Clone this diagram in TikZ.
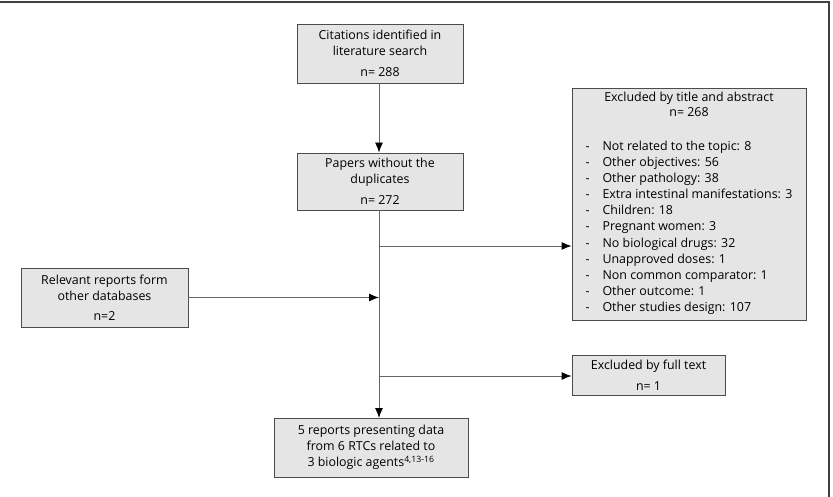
\documentclass[tikz,border=0pt]{standalone}
\usepackage{fontspec}
\setmainfont{Open Sans}
\usetikzlibrary{arrows.meta,positioning}

\begin{document}
\begin{tikzpicture}[
        x=1pt, y=-1pt,
        every node/.style={align=center, font=\fontsize{12.4}{16}\selectfont},
        line/.style={line width=0.9pt, draw=black!60},
        box/.style={draw=black!70, line width=0.9pt, fill=gray!20, inner sep=2pt},
        link/.style={line, -{Latex[length=10pt,width=8pt,black]}}
    ]
    \useasboundingbox (0,0) rectangle (833,497);

    % frame
    \draw[line width=1.8pt, draw=black!75] (0,2) -- (829,2) -- (829,497);

    % Nodes
    \node[box, minimum width=166pt, minimum height=59pt] (cite) at (380,53.5)
        {Citations identified in\\ literature search\\[5pt] n= 288};
    \node[box, minimum width=166pt, minimum height=57pt] (papers) at (380,181.5)
        {Papers without the\\ duplicates\\[5pt] n= 272};
    \node[box, minimum width=234pt, minimum height=232pt] (excl) at (689,204)
        {Excluded by title and abstract\\[-1pt] n= 268\\[22pt]
        \fontsize{12.4}{16.1}\selectfont
        \begin{tabular}{@{}l@{\hspace{13pt}}l@{}}
        - & Not related to the topic: 8\\
        - & Other objectives: 56\\
        - & Other pathology: 38\\
        - & Extra intestinal manifestations: 3\\
        - & Children: 18\\
        - & Pregnant women: 3\\
        - & No biological drugs: 32\\
        - & Unapproved doses: 1\\
        - & Non common comparator: 1\\
        - & Other outcome: 1\\
        - & Other studies design: 107
        \end{tabular}};
    \node[box, minimum width=167pt, minimum height=59pt] (other) at (104.5,297.5)
        {Relevant reports form\\ other databases\\[4pt] n=2};
    \node[box, minimum width=153pt, minimum height=40pt] (full) at (648.5,375)
        {Excluded by full text\\[5pt] n= 1};
    \node[box, minimum width=194pt, minimum height=59pt] (final) at (371,447.5)
        {5 reports presenting data\\ from 6 RTCs related to\\ 3 biologic agents\textsuperscript{4,13-16}};

    % Connectors
    \coordinate (top) at (379,210);
    \coordinate (bot) at (379,418);
    \coordinate (j1) at (379,246);
    \coordinate (j2) at (379,376);
    \draw[link] (cite.south -| top) -- (papers.north -| top);
    \draw[link] (top) -- (bot);
    \draw[link] (j1) -- (j1 -| excl.west);
    \draw[link] (other.east) -- (other.east -| top);
    \draw[link] (j2) -- (j2 -| full.west);

\end{tikzpicture}
\end{document}
